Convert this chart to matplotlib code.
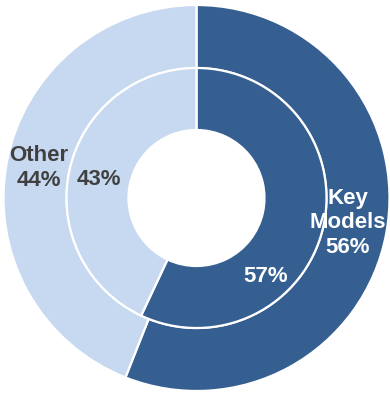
import numpy as np
import matplotlib
matplotlib.use("Agg")
import matplotlib.pyplot as plt

plt.rcParams['font.family'] = ['Liberation Sans', 'DejaVu Sans']

labels = ["Key\nModels", "Other"]
outer_values = [56, 44]
inner_values = [57, 43]
colors = ["#365f91", "#c6d9f0"]
text_colors = ["white", "#404040"]

fig = plt.figure(figsize=(3.9, 3.94), dpi=100)
ax = fig.add_axes([0, 0, 1, 1])

R_out, R_mid, R_hole = 193, 130, 68
wp = dict(edgecolor="white", linewidth=1.6)

ax.pie(outer_values, radius=R_out, colors=colors, startangle=90, counterclock=False,
       wedgeprops=dict(width=R_out - R_mid, **wp), frame=True)
ax.pie(inner_values, radius=R_mid, colors=colors, startangle=90, counterclock=False,
       wedgeprops=dict(width=R_mid - R_hole, **wp), frame=True)
ax.set_xlim(-196.5, 193.5)
ax.set_ylim(-196, 198)
ax.set_aspect("equal")
ax.axis("off")

# label positions (angle in degrees, radius) picked to match the original layout
outer_pos = [(-9.3, 153.5), (169.2, 160.3)]
inner_pos = [(-48.5, 104.5), (169.5, 99)]

for i, v in enumerate(outer_values):
    a, r = np.deg2rad(outer_pos[i][0]), outer_pos[i][1]
    ax.text(r * np.cos(a), r * np.sin(a), f"{labels[i]}\n{v}%",
            ha="center", va="center", fontsize=16, fontweight="bold",
            color=text_colors[i], linespacing=1.2)

for i, v in enumerate(inner_values):
    a, r = np.deg2rad(inner_pos[i][0]), inner_pos[i][1]
    ax.text(r * np.cos(a), r * np.sin(a), f"{v}%",
            ha="center", va="center", fontsize=16, fontweight="bold",
            color=text_colors[i])

fig.savefig("out.png", dpi=100)
